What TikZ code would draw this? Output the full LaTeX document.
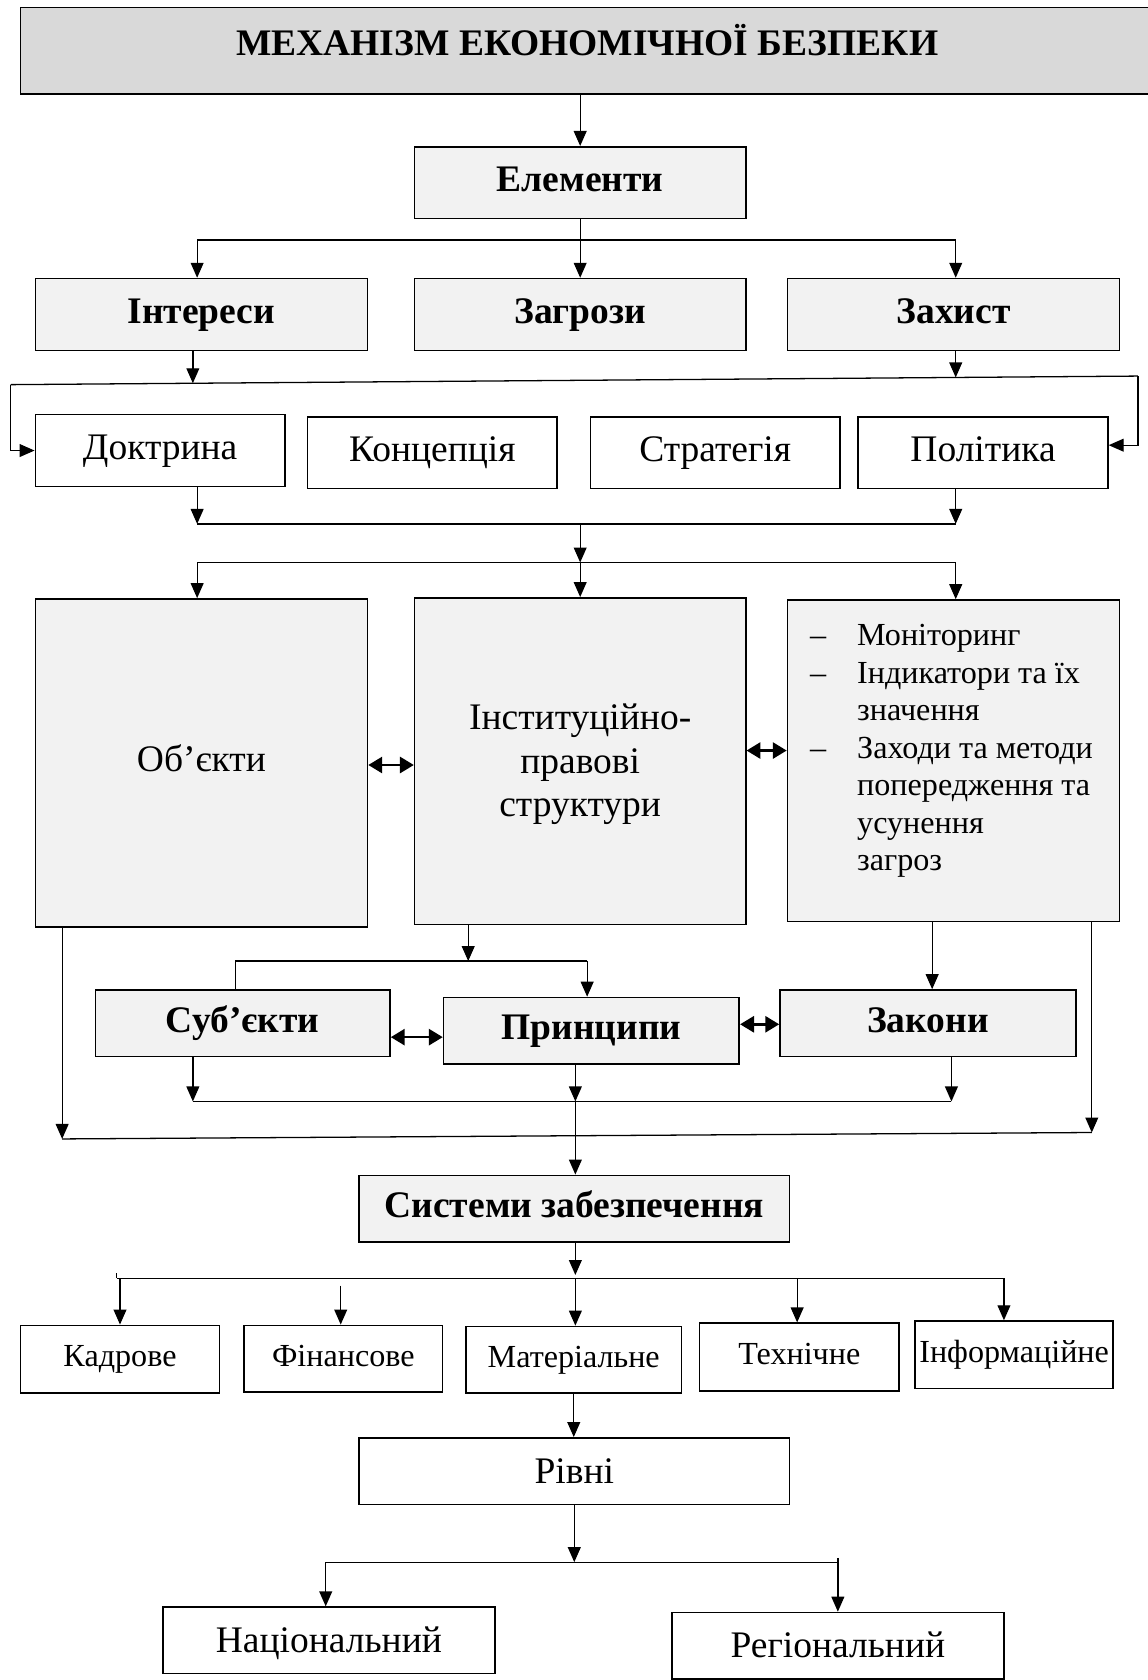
\documentclass[tikz,border=0pt]{standalone}
\usepackage{fontspec}
\setmainfont{Liberation Serif}
\usetikzlibrary{arrows.meta}
\definecolor{titlegray}{HTML}{D9D9D9}
\definecolor{boxgray}{HTML}{F2F2F2}
\begin{document}
\begin{tikzpicture}[x=1pt,y=-1pt,
  box/.style={draw, line width=1.5pt, inner sep=0pt, align=center, fill=white},
  gbox/.style={box, fill=boxgray},
  bf/.style={font=\fontsize{35}{41}\selectfont\bfseries, text height=24.5pt, text depth=8pt},
  rg/.style={font=\fontsize{35}{41}\selectfont, text height=24.5pt, text depth=8pt},
  rgl/.style={font=\fontsize{35}{41}\selectfont, text height=30.5pt, text depth=8pt},
  rgm/.style={font=\fontsize{35}{41}\selectfont},
  sm/.style={font=\fontsize{30}{35}\selectfont, text height=21pt, text depth=7pt},
  arr/.style={-{Triangle[length=14pt,width=12pt]}, line width=1.2pt},
  dbl/.style={{Triangle[length=13pt,width=15pt]}-{Triangle[length=13pt,width=15pt]}, line width=2.5pt},
  ln/.style={line width=1.2pt},
  sz/.style n args={2}{minimum width=#1pt, minimum height=#2pt}]
\fill[white] (0,0) rectangle (1071,1568);
\useasboundingbox (0,0) rectangle (1071,1568);

% boxes
\node[box, fill=titlegray, font=\fontsize{35}{41}\selectfont\bfseries, sz={1058}{81}] (title) at (548,47.5) {\raisebox{20pt}{МЕХАНІЗМ ЕКОНОМІЧНОЇ БЕЗПЕКИ}};
\node[gbox, bf, sz={309}{67}] (elem) at (541.5,170.5) {Елементи};
\node[gbox, bf, sz={310}{67}] (int) at (188,293.5) {Інтереси};
\node[gbox, bf, sz={309}{67}] (zag) at (541.5,293.5) {Загрози};
\node[gbox, bf, sz={310}{67}] (zah) at (890,293.5) {Захист};

\node[box, rg, sz={233}{67}] (dok) at (149.5,420.5) {Доктрина};
\node[box, rg, sz={233}{67}] (kon) at (403.5,422.5) {Концепція};
\node[box, rg, sz={233}{67}] (str) at (667.5,422.5) {Стратегія};
\node[box, rg, sz={233}{67}] (pol) at (917.5,422.5) {Політика};

\node[gbox, rg, sz={310}{306}] (obj) at (188,712) {Об’єкти};
\node[gbox, rgm, sz={309}{305}] (inst) at (541.5,710.5) {\raisebox{-9pt}[0pt][0pt]{\begin{tabular}{@{}c@{}}Інституційно-\\правові\\структури\end{tabular}}};
\node[gbox, font=\fontsize{30}{35}\selectfont, sz={310}{300}] (mon) at (890,710) {\hspace*{-4pt}\raisebox{3pt}[0pt][0pt]{\begin{tabular}{@{}p{44pt}@{}l@{}}
–& Моніторинг\\
–& Індикатори та їх\\
 & значення\\
–& Заходи та методи\\
 & попередження та\\
 & усунення\\
 & загроз
\end{tabular}}};

\node[gbox, bf, sz={275}{62}] (sub) at (226.5,955) {Суб’єкти};
\node[gbox, bf, sz={276}{62}] (prn) at (552,962) {Принципи};
\node[gbox, bf, sz={276}{62}] (zak) at (866,955) {Закони};

\node[gbox, bf, sz={402}{62}] (sys) at (536,1128) {Системи забезпечення};

\node[box, sm, sz={186}{63}] (kad) at (112,1268.5) {Кадрове};
\node[box, sm, sz={185}{62}] (fin) at (320.5,1268) {Фінансове};
\node[box, sm, sz={201}{62}] (mat) at (535.5,1269) {Матеріальне};
\node[box, sm, sz={186}{63}] (teh) at (746,1266.5) {Технічне};
\node[box, sm, sz={185}{63}] (inf) at (946.5,1264.5) {Інформаційне};

\node[box, rgl, sz={402}{62}] (riv) at (536,1373) {Рівні};
\node[box, rgl, sz={310}{62}] (nat) at (307,1531) {Національний};
\node[box, rgl, sz={310}{62}] (reg) at (782,1536) {Регіональний};

% connectors: top
\draw[arr] (elem.north |- title.south) -- (elem.north);
\draw[arr] (elem.south) -- (zag.north);
\coordinate (e1) at (184,224);
\coordinate (e2) at (892,224);
\draw[ln] (e1) -- (e2);
\draw[arr] (e1) -- (e1 |- int.north);
\draw[arr] (e2) -- (e2 |- zah.north);

\coordinate (L1) at (10,359);
\coordinate (R1) at (1062,351);
\coordinate (i1) at (180,357.7);
\coordinate (z1) at (892,352.3);
\draw[ln] (L1) -- (R1);
\draw[arr] (i1 |- int.south) -- (i1);
\draw[arr] (z1 |- zah.south) -- (z1);
\draw[arr] (L1) |- (dok.west);
\draw[arr] (R1) |- ([yshift=7pt]pol.east);

\coordinate (d1) at (184,489);
\coordinate (p1) at (892,489);
\coordinate (m1) at (541.5,489);
\coordinate (m2) at (541.5,525);
\draw[arr] (d1 |- dok.south) -- (d1);
\draw[arr] (p1 |- pol.south) -- (p1);
\draw[ln] (d1) -- (p1);
\draw[arr] (m1) -- (m2);
\coordinate (o1) at (184,525);
\coordinate (r2) at (892,525);
\draw[ln] (o1) -- (r2);
\draw[arr] (o1) -- (o1 |- obj.north);
\draw[arr] (m2) -- (m2 |- inst.north);
\draw[arr] (r2) -- (r2 |- mon.north);

\draw[dbl] ([yshift=-2pt]obj.east) -- ([yshift=-2pt]obj.east -| inst.west);
\draw[dbl] ([yshift=10pt]inst.east) -- ([yshift=10pt]inst.east -| mon.west);

% middle
\coordinate (bl) at (58,1063);
\coordinate (br) at (1019,1057);
\draw[arr] (bl |- obj.south) -- (bl);
\draw[arr] (br |- mon.south) -- (br);
\draw[ln] (bl) -- (br);

\coordinate (s0) at (437,897);
\coordinate (s1) at (220,897);
\coordinate (s2) at (548,897);
\draw[arr] (s0 |- inst.south) -- (s0);
\draw[ln] (s1 |- sub.north) -- (s1) -- (s2);
\draw[arr] (s2) -- (s2 |- prn.north);
\draw[arr] ([xshift=-20pt]mon.south) -- ([xshift=-20pt]mon.south |- zak.north);

\draw[dbl] ([yshift=-13pt]sub.east) -- ([yshift=-13pt]sub.east -| prn.west);
\draw[dbl] ([yshift=6pt]prn.east) -- ([yshift=6pt]prn.east -| zak.west);

\coordinate (u1) at (180,1028);
\coordinate (u2) at (537,1028);
\coordinate (u3) at (888,1028);
\draw[arr] (u1 |- sub.south) -- (u1);
\draw[arr] (u2 |- prn.south) -- (u2);
\draw[arr] (u3 |- zak.south) -- (u3);
\draw[ln] (u1) -- (u3);
\draw[arr] (u2) -- (u2 |- sys.north);

% lower
\coordinate (c0) at (537,1190);
\coordinate (c1) at (112,1193);
\coordinate (c2) at (318,1193);
\coordinate (c3) at (537,1193);
\coordinate (c4) at (744,1193);
\coordinate (c5) at (937,1193);
\draw[arr] (c0 |- sys.south) -- (c0);
\draw[ln] ([xshift=-3pt]c1) -- (c5);
\draw[ln] ([xshift=-3pt]c1) -- ([xshift=-3pt,yshift=5pt]c1);
\draw[arr] (c1) -- (c1 |- kad.north);
\draw[arr] ([yshift=-7pt]c2) -- (c2 |- fin.north);
\draw[arr] (c3) -- (c3 |- mat.north);
\draw[arr] (c4) -- (c4 |- teh.north);
\draw[arr] (c5) -- (c5 |- inf.north);

\draw[arr] (mat.south) -- (mat.south |- riv.north);
\coordinate (v0) at (536,1458);
\coordinate (v1) at (304,1458);
\coordinate (v2) at (782,1458);
\draw[arr] (riv.south) -- (v0);
\draw[ln] (v1) -- (v2);
\draw[arr] (v1) -- (v1 |- nat.north);
\draw[arr] ([yshift=4pt]v2) -- (v2 |- reg.north);
\end{tikzpicture}
\end{document}
